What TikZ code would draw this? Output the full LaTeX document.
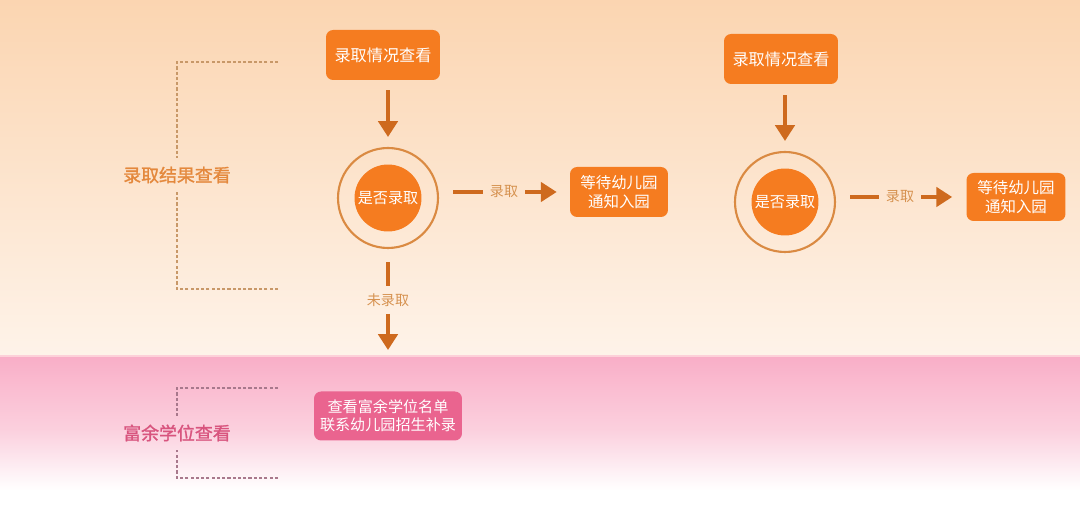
\documentclass[tikz,border=0pt]{standalone}
\usepackage{fontspec}
\setmainfont{Noto Sans CJK SC}[AutoFakeBold=1.5]
\usepackage{tikz}
\usetikzlibrary{arrows.meta}
\definecolor{peachtop}{RGB}{251,213,177}
\definecolor{peachbot}{RGB}{254,243,233}
\definecolor{pinktop}{RGB}{249,174,199}
\definecolor{pinkmid}{RGB}{251,208,222}
\definecolor{boxorange}{RGB}{245,124,32}
\definecolor{arrowbrown}{RGB}{206,106,30}
\definecolor{ringorange}{RGB}{218,138,66}
\definecolor{tagorange}{RGB}{214,146,80}
\definecolor{headorange}{RGB}{228,136,60}
\definecolor{boxpink}{RGB}{234,100,143}
\definecolor{headpink}{RGB}{216,84,126}
\definecolor{dashtan}{RGB}{200,152,104}
\definecolor{dashpink}{RGB}{168,120,140}

\begin{document}
\begin{tikzpicture}[x=0.02cm,y=-0.02cm,
  stepbox/.style={fill=boxorange,rounded corners=4pt,text=white,align=center,
    inner sep=0pt,font=\fontsize{9.2}{11}\selectfont},
  ringnode/.style={circle,draw=ringorange,line width=1.2pt,minimum size=2cm,inner sep=0pt},
  corenode/.style={circle,fill=boxorange,minimum size=1.34cm,inner sep=0pt,text=white,
    font=\fontsize{8.6}{10}\selectfont},
  tag/.style={text=tagorange,inner sep=4pt,font=\fontsize{8}{9}\selectfont},
  head/.style={font=\bfseries\fontsize{10.2}{12}\selectfont,inner sep=5pt},
  conn/.style={arrowbrown,line width=2pt},
  arr/.style={conn,-{Triangle[width=11pt,length=9pt]}},
  bracket/.style={dashed,dash pattern=on 1.8pt off 1.2pt,line width=0.6pt}]
  \useasboundingbox (0,0) rectangle (1080,516);

  %background
  \fill[white] (0,0) rectangle (1080,516);
  \shade[top color=peachtop,bottom color=peachbot] (0,0) rectangle (1080,356);
  \shade[top color=pinktop,bottom color=pinkmid] (0,356) rectangle (1080,430);
  \shade[top color=pinkmid,bottom color=white] (0,430) rectangle (1080,490);
  \draw[pinktop!80!red!40!white,line width=0.8pt] (0,356) -- (1080,356);

  %left headings
  \node[head,text=headorange] (resulthead) at (177,175) {录取结果查看};
  \node[head,text=headpink] (extrahead) at (177,433) {富余学位查看};
  \coordinate (rtop) at (278,62);
  \coordinate (rbot) at (278,289);
  \coordinate (etop) at (278,388);
  \coordinate (ebot) at (278,478);
  \draw[bracket,dashtan] (rtop) -| (resulthead.north);
  \draw[bracket,dashtan] (rbot) -| (resulthead.south);
  \draw[bracket,dashpink] (etop) -| (extrahead.north);
  \draw[bracket,dashpink] (ebot) -| (extrahead.south);

  %first flow
  \node[stepbox,minimum width=2.28cm,minimum height=1cm] (check1) at (383,55) {录取情况查看};
  \node[ringnode] (ring1) at (388,198) {};
  \node[corenode] (core1) at (388,198) {是否录取};
  \node[tag] (acc1) at (504,192) {录取};
  \node[stepbox,minimum width=1.96cm,minimum height=1cm,font=\fontsize{8.8}{10.5}\selectfont]
    (wait1) at (619,192) {等待幼儿园\\通知入园};
  \node[tag] (miss1) at (388,300) {未录取};
  \coordinate (down1) at (388,350);
  \node[stepbox,fill=boxpink,minimum width=2.96cm,minimum height=0.98cm,
    font=\fontsize{8.6}{10.5}\selectfont] (extra) at (388,416)
    {查看富余学位名单\\联系幼儿园招生补录};

  \draw[arr,shorten <=0.2cm,shorten >=0.2cm] (check1.south -| ring1) -- (ring1);
  \draw[conn,shorten <=0.28cm] (ring1.east |- acc1) -- (acc1.west);
  \draw[arr,shorten >=0.26cm] (acc1.east) -- (wait1.west);
  \draw[conn,shorten <=0.26cm] (ring1.south) -- (miss1.north);
  \draw[arr] (miss1.south) -- (down1);

  %second flow
  \node[stepbox,minimum width=2.28cm,minimum height=1cm] (check2) at (781,59) {录取情况查看};
  \node[ringnode] (ring2) at (785,202) {};
  \node[corenode] (core2) at (785,202) {是否录取};
  \node[tag] (acc2) at (900,197) {录取};
  \node[stepbox,minimum width=1.98cm,minimum height=0.96cm,font=\fontsize{8.8}{10.5}\selectfont]
    (wait2) at (1016,197) {等待幼儿园\\通知入园};

  \draw[arr,shorten <=0.22cm,shorten >=0.2cm] (check2.south -| ring2) -- (ring2);
  \draw[conn,shorten <=0.28cm] (ring2.east |- acc2) -- (acc2.west);
  \draw[arr,shorten >=0.28cm] (acc2.east) -- (wait2.west);

\end{tikzpicture}
\end{document}
